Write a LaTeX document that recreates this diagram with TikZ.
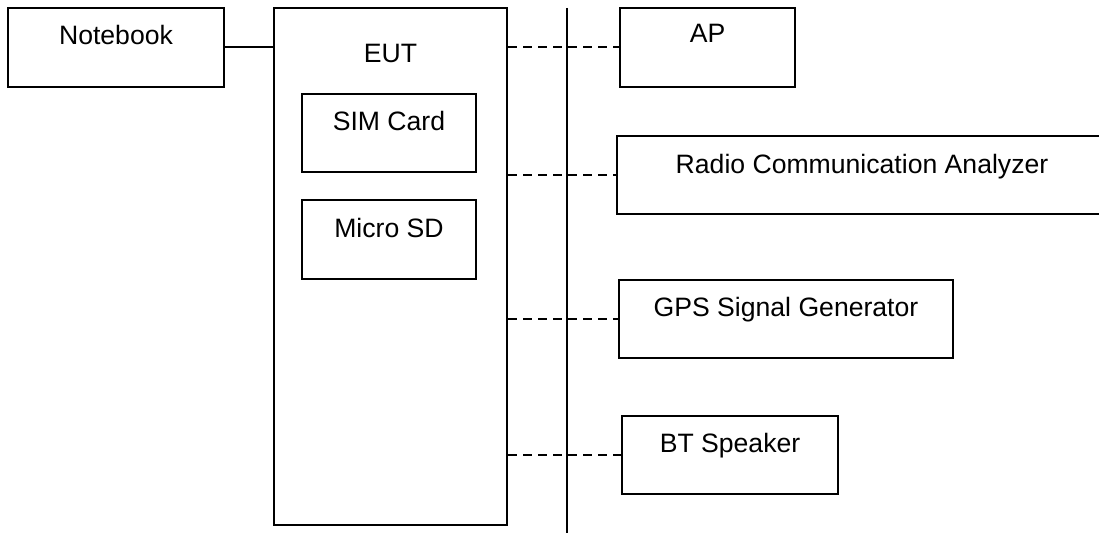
\documentclass[tikz,border=0pt]{standalone}
\usepackage{fontspec}
\setmainfont{Liberation Sans}
\tikzset{
  box/.style={draw, line width=1pt, inner sep=0pt, font=\fontsize{13.3}{16}\selectfont, text height=18.25pt},
  wire/.style={line width=1pt},
  radiolink/.style={line width=1pt, dash pattern=on 4.5pt off 3pt}
}
\begin{document}
\begin{tikzpicture}[x=0.5pt,y=-0.5pt]
\path[use as bounding box, clip] (0,0) rectangle (1099,533);
\node[box, minimum width=108pt, text depth=21.25pt] (notebook) at (116,47.5) {Notebook};
\node[box, minimum width=116.5pt, text height=27.25pt, text depth=231.25pt] (eut) at (390.5,266.5) {EUT};
\node[box, minimum width=87pt, text depth=20.75pt] (sim) at (389,133) {SIM Card};
\node[box, minimum width=87pt, text height=18.75pt, text depth=20.75pt] (sd) at (389,239.5) {Micro SD};
\node[box, minimum width=87.5pt, text height=17.25pt, text depth=22.25pt] (ap) at (707.5,47.5) {AP};
\node[box, minimum width=245pt, text height=18.75pt, text depth=20.25pt] (analyzer) at (862,175) {Radio Communication Analyzer};
\node[box, minimum width=167pt, text depth=20.75pt] (gps) at (786,319) {GPS Signal Generator};
\node[box, minimum width=108pt, text depth=20.75pt] (speaker) at (730,455) {BT Speaker};
% air interface line
\coordinate (air top) at (567,8);
\coordinate (air end) at (567,533);
\draw [wire] (air top) -- (air end);
\draw [wire] (notebook.east) -- (notebook.east -| eut.west);
\draw [radiolink] (eut.east |- ap.west) -- (ap.west);
\draw [radiolink] (eut.east |- analyzer.west) -- (analyzer.west);
\draw [radiolink] (eut.east |- gps.west) -- (gps.west);
\draw [radiolink] (eut.east |- speaker.west) -- (speaker.west);
\end{tikzpicture}
\end{document}
